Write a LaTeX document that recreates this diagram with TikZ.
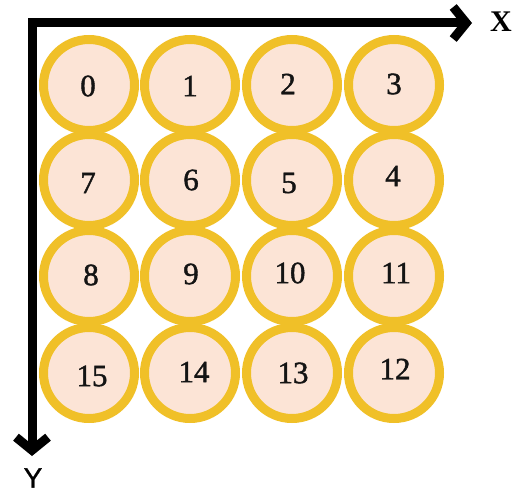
\documentclass[tikz,border=0pt]{standalone}
\usepackage{fontspec}
\setmainfont{Liberation Serif}
\newfontfamily\numfont[FakeBold=1.3]{Liberation Serif}
\newfontfamily\axsans[FakeBold=1]{Liberation Sans}
\usetikzlibrary{arrows.meta}
\definecolor{ringgold}{RGB}{240,192,40}
\definecolor{peach}{RGB}{252,228,214}
\tikzset{
  ring/.style={circle, draw=ringgold, fill=peach, line width=9pt, minimum size=91pt, inner sep=0pt},
  num/.style={font=\numfont\fontsize{31}{33}\selectfont, text=black!92, inner sep=0pt},
  axis/.style={line width=9pt, line join=miter, {Straight Barb[length=13pt,width=32pt,line width=9pt]}-{Straight Barb[length=13pt,width=32pt,line width=9pt]}}
}
\begin{document}
\begin{tikzpicture}[x=1pt,y=-1pt]
\useasboundingbox (0,0) rectangle (516,495);
% circles
\foreach \cx/\cy/\n in {
  89/85/0, 190/85/1, 292/85/2, 394/85/3,
  89/180/7, 190/180/6, 292/180/5, 394/180/4,
  89/276/8, 190/276/9, 292/276/10, 394/276/11,
  89/373/15, 190/373/14, 292/373/13, 394/373/12}
  \node[ring] (c\n) at (\cx,\cy) {};
% numbers
\node[num] (n0) at (88,86) {0};
\node[num] (n1) at (190,86) {1};
\node[num] (n2) at (288,84) {2};
\node[num] (n3) at (394,84) {3};
\node[num] (n7) at (88,183) {7};
\node[num] (n6) at (191,180) {6};
\node[num] (n5) at (289,183) {5};
\node[num] (n4) at (393,176) {4};
\node[num] (n8) at (91,275) {8};
\node[num] (n9) at (191,274) {9};
\node[num] (n10) at (290,273) {10};
\node[num] (n11) at (396,273) {11};
\node[num] (n15) at (92,376) {15};
\node[num] (n14) at (194,372) {14};
\node[num] (n13) at (293,373) {13};
\node[num] (n12) at (395,369) {12};
% axes
\coordinate (xend) at (472,23);
\coordinate (corner) at (32,23);
\coordinate (yend) at (32,456);
\draw[axis] (xend) -- (corner) -- (yend);
\node[font=\fontsize{30}{32}\selectfont\bfseries, inner sep=0pt] (xl) at (501,22) {X};
\node[font=\axsans\fontsize{28}{30}\selectfont, inner sep=0pt] (yl) at (33,478) {Y};
\end{tikzpicture}
\end{document}
